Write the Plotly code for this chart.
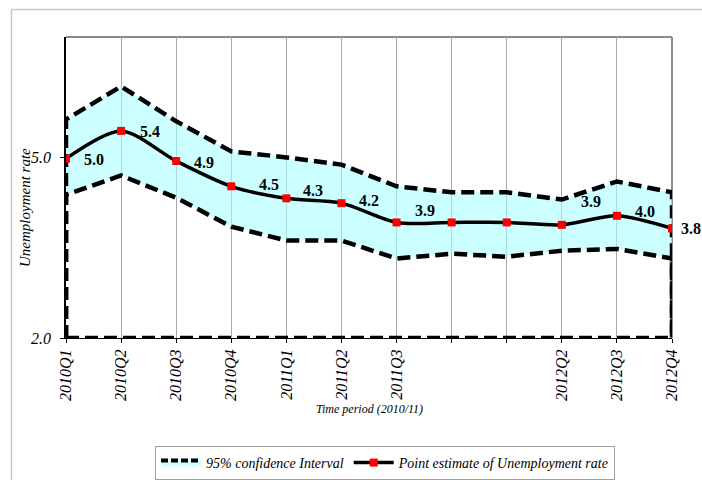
import plotly.graph_objects as go

# ---------------- data ----------------
quarters = ["2010Q1", "2010Q2", "2010Q3", "2010Q4", "2011Q1", "2011Q2",
            "2011Q3", "2011Q4", "2012Q1", "2012Q2", "2012Q3", "2012Q4"]
tick_labels = ["2010Q1", "2010Q2", "2010Q3", "2010Q4", "2011Q1", "2011Q2",
               "2011Q3", "", "", "2012Q2", "2012Q3", "2012Q4"]
point_estimate = [4.98, 5.44, 4.94, 4.52, 4.32, 4.24, 3.92, 3.92, 3.92, 3.88, 4.03, 3.82]
upper_ci = [5.63, 6.18, 5.60, 5.10, 5.00, 4.88, 4.52, 4.42, 4.42, 4.30, 4.60, 4.42]
lower_ci = [4.38, 4.70, 4.33, 3.85, 3.62, 3.62, 3.32, 3.40, 3.35, 3.45, 3.48, 3.32]
point_labels = ["5.0", "5.4", "4.9", "4.5", "4.3", "4.2", "3.9", "", "", "3.9", "4.0", "3.8"]
baseline = 2.0
y_ticks = [2.0, 5.0]
y_tick_text = ["2.0", "5.0"]

# ---------------- style ----------------
FONT = "Liberation Serif"
label_dx = [28, 29, 28, 38, 27, 28, 28, 0, 0, 29, 28, 19]
label_dy = [1, 1, 1, -2, -8, -3, -12, 0, 0, -23, -4, 0]   # px, downward positive
dash_style = "13px,6px"

fig = go.Figure()

# band fill
fig.add_trace(go.Scatter(x=quarters, y=lower_ci, mode="lines", line=dict(width=0),
                         showlegend=False, hoverinfo="skip"))
fig.add_trace(go.Scatter(x=quarters, y=upper_ci, mode="lines", line=dict(width=0),
                         fill="tonexty", fillcolor="rgba(170,255,255,0.6)",
                         showlegend=False, hoverinfo="skip"))

# dashed outlines (areas closed down to the baseline)
for series in (upper_ci, lower_ci):
    fig.add_trace(go.Scatter(
        x=[quarters[0]] + quarters + [quarters[-1]],
        y=[baseline] + series + [baseline],
        mode="lines", line=dict(color="black", width=4.5, dash=dash_style),
        showlegend=False, hoverinfo="skip"))
fig.add_trace(go.Scatter(x=[quarters[0], quarters[-1]], y=[baseline, baseline],
                         mode="lines", line=dict(color="black", width=4.5, dash=dash_style),
                         showlegend=False, hoverinfo="skip"))

# legend entry for CI
fig.add_trace(go.Scatter(x=[None], y=[None], mode="lines", fill="toself",
                         fillcolor="#CCFFFF",
                         line=dict(color="black", width=4, dash="7px,3px"),
                         name="95% confidence Interval"))

# point estimate
fig.add_trace(go.Scatter(x=quarters, y=point_estimate, mode="lines+markers",
                         line=dict(color="black", width=3.5, shape="spline", smoothing=0.8),
                         marker=dict(color="red", symbol="square", size=8),
                         name="Point estimate of Unemployment rate"))

# data labels
for q, v, t, dx, dy in zip(quarters, point_estimate, point_labels, label_dx, label_dy):
    if t:
        fig.add_annotation(x=q, y=v, text=t, showarrow=False, xshift=dx, yshift=-dy,
                           font=dict(family=FONT, size=16, color="black", weight="bold"))

# y tick labels (placed explicitly)
for v, t in zip(y_ticks, y_tick_text):
    fig.add_annotation(xref="paper", yref="y", x=(53 - 66) / 606, y=v, text=t,
                       xanchor="right", yanchor="middle", showarrow=False,
                       font=dict(family=FONT, size=16, color="black", style="italic"))

# axis titles
fig.add_annotation(xref="paper", yref="paper", x=(369 - 66) / 606, y=(338 - 409) / 301,
                   xanchor="center", yanchor="middle",
                   text="Time period (2010/11)", showarrow=False,
                   font=dict(family=FONT, size=12, color="black", style="italic"))
fig.add_annotation(xref="paper", yref="paper", x=(25 - 66) / 606, y=(338 - 208) / 301,
                   xanchor="center", yanchor="middle",
                   text="Unemployment rate", showarrow=False, textangle=-90,
                   font=dict(family=FONT, size=15, color="black", style="italic"))

# frames
frame = dict(color="#C8C8C8", width=1.5)
fig.add_shape(type="line", xref="paper", yref="paper", x0=(11.5 - 66) / 606, x1=(11.5 - 66) / 606,
              y0=(338 - 9.5) / 301, y1=(338 - 485) / 301, line=frame)
fig.add_shape(type="line", xref="paper", yref="paper", x0=(11.5 - 66) / 606, x1=(710 - 66) / 606,
              y0=(338 - 9.5) / 301, y1=(338 - 9.5) / 301, line=frame)
fig.add_shape(type="line", xref="paper", yref="paper", x0=0, x1=1, y0=1, y1=1, layer="below",
              line=dict(color="#8C8C8C", width=2))
fig.add_shape(type="line", xref="paper", yref="paper", x0=1, x1=1, y0=0, y1=1, layer="below",
              line=dict(color="#8C8C8C", width=2))

fig.update_layout(
    width=702, height=480,
    margin=dict(l=66, r=30, t=37, b=142, autoexpand=False),
    paper_bgcolor="white", plot_bgcolor="white",
    font=dict(family=FONT, color="black"),
    xaxis=dict(type="category", categoryorder="array", categoryarray=quarters,
               range=[0, 11], tickmode="array", tickvals=quarters, ticktext=tick_labels,
               tickangle=-90, tickfont=dict(family=FONT, size=16, style="italic"),
               showgrid=True, gridcolor="#A8A8A8", gridwidth=1, automargin=False,
               showline=True, linecolor="black", linewidth=1,
               ticks="outside", ticklen=4, tickcolor="black", zeroline=False),
    yaxis=dict(range=[2, 7], tickmode="array", tickvals=y_ticks, showticklabels=False,
               automargin=False,
               showgrid=False, showline=True, linecolor="black", linewidth=1.5,
               ticks="outside", ticklen=4, tickcolor="black", zeroline=False),
    legend=dict(orientation="h", xanchor="center", yanchor="top",
                x=(385 - 66) / 606, y=(338 - 446) / 301, traceorder="normal",
                bordercolor="#A0A0A0", borderwidth=1, bgcolor="white",
                font=dict(family=FONT, size=14, style="italic"),
                itemwidth=40, tracegroupgap=0),
    showlegend=True,
)

fig.write_html("out.html", config={"displayModeBar": False},
               post_script="document.body.style.margin='0';")
